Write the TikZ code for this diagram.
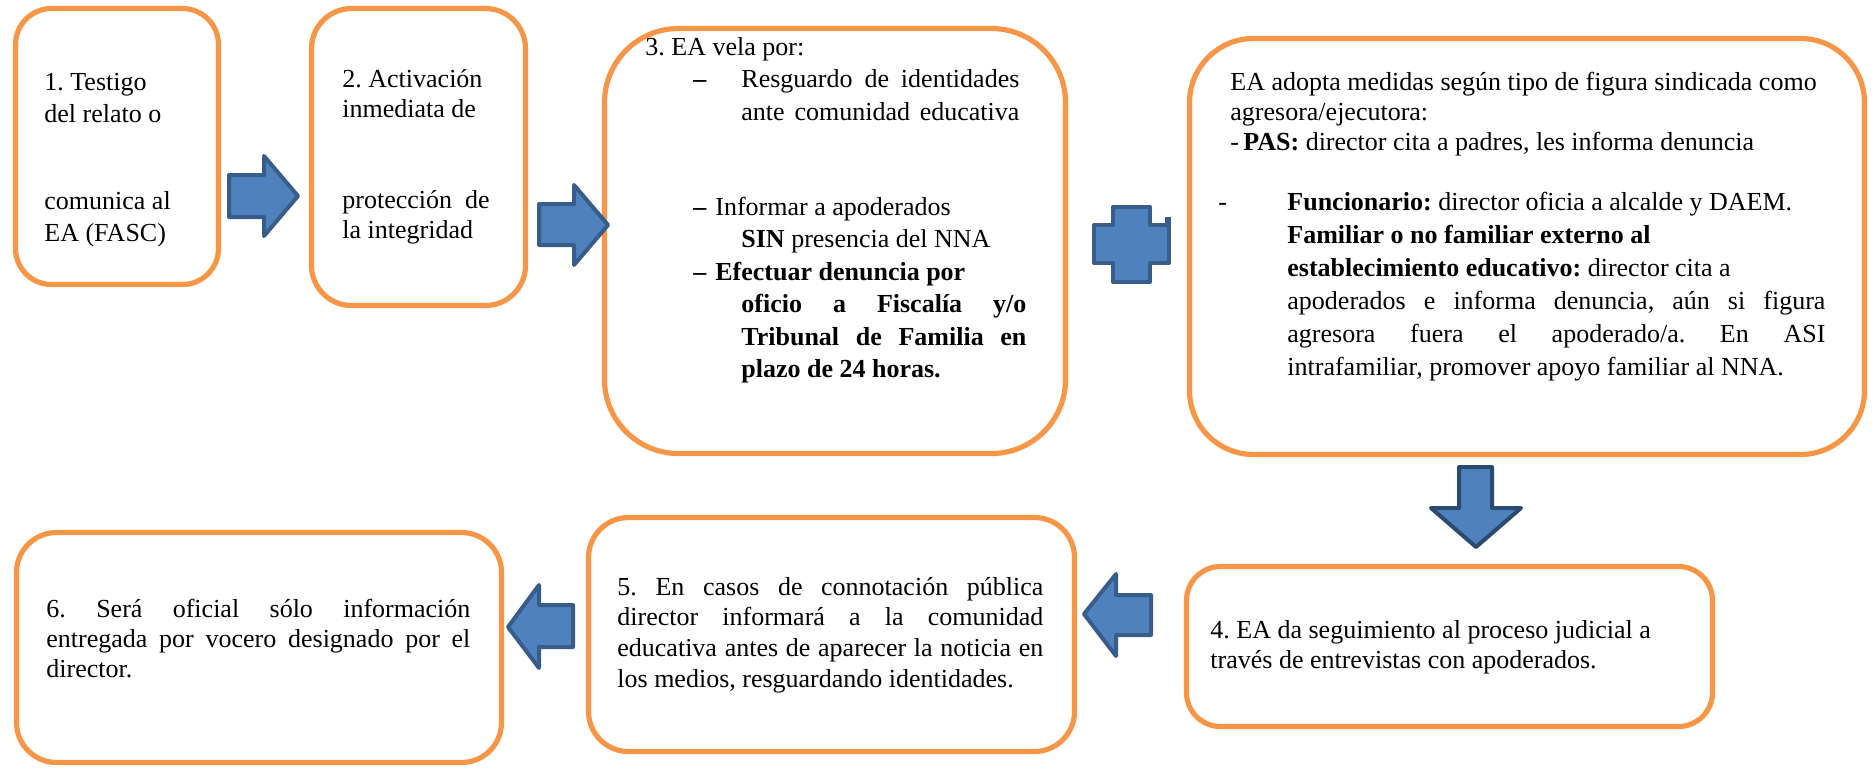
\documentclass[tikz,border=0pt]{standalone}
\usepackage{fontspec}
\setmainfont{Liberation Serif}
\definecolor{borange}{HTML}{F79646}
\definecolor{ablue}{HTML}{4F81BD}
\definecolor{aline}{HTML}{385D8A}
\definecolor{adark}{HTML}{2A4A70}
\frenchspacing
\begin{document}
\begin{tikzpicture}[x=0.5pt,y=-0.5pt,
  box/.style={draw=borange, line width=2.6pt, rectangle, inner sep=0pt, fill=white},
  txt/.style={anchor=base west, inner sep=0pt},
  barrow/.style={fill=ablue, draw=aline, line width=2pt, line join=round}]
\useasboundingbox (0,0) rectangle (1873,767);
% boxes
\node[box, rounded corners=18pt, minimum width=101.5pt, minimum height=138pt] (b1) at (117,146.5) {};
\node[box, rounded corners=20pt, minimum width=107pt, minimum height=148.5pt] (b2) at (418.5,157) {};
\node[box, rounded corners=37pt, minimum width=230.5pt, minimum height=212.5pt] (b3) at (835,241) {};
\node[box, rounded corners=32pt, minimum width=337.5pt, minimum height=208pt] (b4) at (1527,246.5) {};
\node[box, rounded corners=17pt, minimum width=263pt, minimum height=80pt] (bseg) at (1449.5,646.5) {};
\node[box, rounded corners=20pt, minimum width=243pt, minimum height=117pt] (b5) at (831.5,634.5) {};
\node[box, rounded corners=20pt, minimum width=242.5pt, minimum height=115pt] (b6) at (259,647.5) {};
% texts
\node[txt] (t1) at (44,90) {\parbox[t]{95pt}{\fontsize{13pt}{16pt}\selectfont
1. Testigo\\del relato o\\[27.5pt]comunica al\\EA (FASC)}};
\node[txt] (t2) at (342,87) {\parbox[t]{95pt}{\fontsize{13pt}{15pt}\selectfont
2. Activación\\inmediata de\\[30.5pt]protección\ \ de\\la integridad}};
\node[txt] (t3) at (645,55) {\parbox[t]{200pt}{\fontsize{13pt}{16.25pt}\selectfont
3. EA vela por:\\
\makebox[48pt][l]{\hspace*{24pt}\textbf{–}}\makebox[139pt][s]{Resguardo de identidades}\\
\hspace*{48pt}\makebox[139pt][s]{ante comunidad educativa}\\[31.25pt]
\makebox[35pt][l]{\hspace*{24pt}\textbf{–}}Informar a apoderados\\
\hspace*{48pt}\textbf{SIN} presencia del NNA\\
\makebox[35pt][l]{\hspace*{24pt}\textbf{–}}\textbf{Efectuar denuncia por}\\
\hspace*{48pt}\makebox[142.5pt][s]{\bfseries oficio a Fiscalía y/o}\\
\hspace*{48pt}\makebox[142.5pt][s]{\bfseries Tribunal de Familia en}\\
\hspace*{48pt}\textbf{plazo de 24 horas.}}};
\node[txt] (t4a) at (1230,90) {\parbox[t]{310pt}{\fontsize{13pt}{15pt}\selectfont
EA adopta medidas según tipo de figura sindicada como\\
agresora/ejecutora:\\
-\,\textbf{PAS:} director cita a padres, les informa denuncia}};
\node[txt] (t4b) at (1218,210) {\parbox[t]{310pt}{\fontsize{13pt}{16.5pt}\selectfont
\makebox[34.5pt][l]{-}\textbf{Funcionario:} director oficia a alcalde y DAEM.\\
\hspace*{34.5pt}\textbf{Familiar o no familiar externo al}\\
\hspace*{34.5pt}\textbf{establecimiento educativo:} director cita a\\
\hspace*{34.5pt}\makebox[269pt][s]{apoderados e informa denuncia, aún si figura}\\
\hspace*{34.5pt}\makebox[269pt][s]{agresora fuera el apoderado/a. En ASI}\\
\hspace*{34.5pt}intrafamiliar, promover apoyo familiar al NNA.}};
\node[txt] (tseg) at (1210,638) {\parbox[t]{245pt}{\fontsize{13pt}{15pt}\selectfont
4. EA da seguimiento al proceso judicial a\\
través de entrevistas con apoderados.}};
\node[txt] (t5) at (617,595) {\parbox[t]{213pt}{\fontsize{13pt}{15.35pt}\selectfont
\makebox[213pt][s]{5. En casos de connotación pública}\\
\makebox[213pt][s]{director informará a la comunidad}\\
\makebox[213pt][s]{educativa antes de aparecer la noticia en}\\
los medios, resguardando identidades.}};
\node[txt] (t6) at (46,617) {\parbox[t]{212pt}{\fontsize{13pt}{15pt}\selectfont
\makebox[212pt][s]{6. Será oficial sólo información}\\
\makebox[212pt][s]{entregada por vocero designado por el}\\
director.}};
% block arrows
\draw[barrow] (229,175) -- (264,175) -- (264,156) -- (298,196) -- (264,236) -- (264,217) -- (229,217) -- cycle;
\draw[barrow] (539,204) -- (574,204) -- (574,185) -- (608,225) -- (574,265) -- (574,245) -- (539,245) -- cycle;
\draw[barrow, draw=adark] (1459,467) -- (1492,467) -- (1492,508) -- (1521,508) -- (1476,547) -- (1431,508) -- (1459,508) -- cycle;
\draw[barrow] (1151,595) -- (1116,595) -- (1116,574) -- (1084,614) -- (1116,656) -- (1116,635) -- (1151,635) -- cycle;
\draw[barrow] (573,605) -- (539,605) -- (539,585) -- (508,627) -- (539,668) -- (539,647) -- (573,647) -- cycle;
\draw[barrow] (1113,207) -- (1150,207) -- (1150,225) -- (1169,225) -- (1169,263) -- (1150,263) -- (1150,282) -- (1113,282) -- (1113,263) -- (1094,263) -- (1094,225) -- (1113,225) -- cycle;
\fill[aline] (1165,217) rectangle (1171,226);
\end{tikzpicture}
\end{document}
